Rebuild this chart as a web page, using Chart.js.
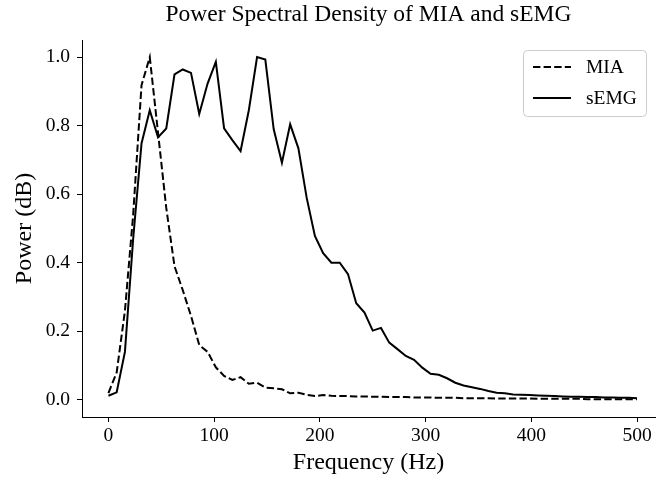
<!DOCTYPE html>
<html>
<head>
<meta charset="utf-8">
<script src="https://cdn.jsdelivr.net/npm/chart.js@4"></script>
<style>
  html, body { margin: 0; padding: 0; background: #fff; }
  #psd-chart { display: block; }
</style>
</head>
<body>
<canvas id="psd-chart" width="657" height="477"></canvas>
<script>
var freqs = [0, 7.8, 15.6, 23.4, 31.3, 39.1, 46.9, 54.7, 62.5, 70.3,
  78.1, 85.9, 93.8, 101.6, 109.4, 117.2, 125, 132.8, 140.6, 148.4,
  156.3, 164.1, 171.9, 179.7, 187.5, 195.3, 203.1, 210.9, 218.8, 226.6,
  234.4, 242.2, 250, 257.8, 265.6, 273.4, 281.3, 289.1, 296.9, 304.7,
  312.5, 320.3, 328.1, 335.9, 343.8, 351.6, 359.4, 367.2, 375, 382.8,
  390.6, 398.4, 406.3, 414.1, 421.9, 429.7, 437.5, 445.3, 453.1, 460.9,
  468.8, 476.6, 484.4, 492.2, 500];

var mia = [0.02, 0.08, 0.26, 0.54, 0.918, 1.0, 0.78, 0.56, 0.39, 0.32,
  0.245, 0.16, 0.14, 0.095, 0.07, 0.058, 0.066, 0.047, 0.05, 0.036,
  0.034, 0.031, 0.019, 0.021, 0.015, 0.011, 0.014, 0.012, 0.011, 0.011,
  0.010, 0.010, 0.009, 0.009, 0.008, 0.008, 0.008, 0.007, 0.007, 0.007,
  0.006, 0.006, 0.006, 0.005, 0.005, 0.005, 0.005, 0.004, 0.004, 0.004,
  0.004, 0.004, 0.003, 0.003, 0.003, 0.003, 0.003, 0.003, 0.002, 0.002,
  0.002, 0.002, 0.002, 0.002, 0.002];

var semg = [0.012, 0.022, 0.14, 0.47, 0.748, 0.845, 0.766, 0.792, 0.95, 0.964,
  0.954, 0.834, 0.923, 0.986, 0.792, 0.758, 0.726, 0.845, 1.0, 0.993,
  0.79, 0.692, 0.804, 0.734, 0.59, 0.478, 0.428, 0.40, 0.40, 0.367,
  0.282, 0.255, 0.202, 0.21, 0.167, 0.148, 0.128, 0.117, 0.094, 0.076,
  0.073, 0.063, 0.05, 0.042, 0.037, 0.032, 0.026, 0.021, 0.019, 0.016,
  0.015, 0.014, 0.013, 0.012, 0.011, 0.010, 0.009, 0.009, 0.008, 0.008,
  0.007, 0.007, 0.006, 0.006, 0.005];

var x_ticks = [0, 100, 200, 300, 400, 500];
var y_ticks = [0, 0.2, 0.4, 0.6, 0.8, 1.0];

var serif = "'Liberation Serif', 'DejaVu Serif', serif";

function toPoints(ys) {
  return freqs.map(function (f, i) { return { x: f, y: ys[i] }; });
}

// legend drawn inside the plot, upper right, like matplotlib
const insideLegend = {
  id: 'insideLegend',
  afterDraw(chart) {
    const ctx = chart.ctx;
    const bx = 523, by = 50, bw = 123, bh = 66;
    ctx.save();
    ctx.beginPath();
    ctx.roundRect(bx + 0.5, by + 0.5, bw, bh, 4);
    ctx.fillStyle = 'rgba(255,255,255,0.8)';
    ctx.fill();
    ctx.strokeStyle = '#cccccc';
    ctx.lineWidth = 1;
    ctx.stroke();
    chart.data.datasets.forEach(function (ds, i) {
      const y = by + 17 + i * 31;
      ctx.beginPath();
      ctx.setLineDash(ds.borderDash || []);
      ctx.strokeStyle = ds.borderColor;
      ctx.lineWidth = ds.borderWidth;
      ctx.moveTo(533, y);
      ctx.lineTo(571, y);
      ctx.stroke();
      ctx.setLineDash([]);
      ctx.fillStyle = '#000';
      ctx.font = '19.5px ' + serif;
      ctx.textBaseline = 'middle';
      ctx.fillText(ds.label, 586, y + 1);
    });
    ctx.restore();
  }
};

const data_psd = {
  datasets: [{
    label: 'MIA',
    data: toPoints(mia),
    borderColor: '#000',
    borderWidth: 2,
    borderDash: [7.4, 3.2],
    borderCapStyle: 'butt',
    pointRadius: 0,
    fill: false,
    tension: 0
  }, {
    label: 'sEMG',
    data: toPoints(semg),
    borderColor: '#000',
    borderWidth: 2,
    pointRadius: 0,
    fill: false,
    tension: 0
  }]
};

const config_psd = {
  type: 'line',
  data: data_psd,
  plugins: [insideLegend],
  options: {
    responsive: false,
    devicePixelRatio: 1,
    animation: false,
    layout: { padding: { left: 0, right: 2, top: 0, bottom: 0 } },
    plugins: {
      legend: { display: false },
      tooltip: { enabled: false },
      title: {
        display: true,
        text: 'Power Spectral Density of MIA and sEMG',
        color: '#000',
        fullSize: false,
        font: { family: serif, size: 23.5, weight: 'normal' },
        padding: { top: 1, bottom: 10.8 }
      }
    },
    scales: {
      x: {
        type: 'linear',
        min: -25,
        max: 517,
        afterBuildTicks: function (axis) {
          axis.ticks = x_ticks.map(function (v) { return { value: v }; });
        },
        afterFit: function (axis) { axis.height = 60; },
        grid: { drawOnChartArea: false, drawTicks: true, tickLength: 5, tickColor: '#000' },
        border: { display: true, color: '#000', width: 1 },
        ticks: {
          color: '#000',
          padding: 2,
          maxRotation: 0,
          font: { family: serif, size: 19.5 },
          callback: function (v) { return String(v); }
        },
        title: {
          display: true,
          text: 'Frequency (Hz)',
          color: '#000',
          font: { family: serif, size: 24 },
          padding: { top: 0, bottom: 0 }
        }
      },
      y: {
        min: -0.05,
        max: 1.05,
        afterBuildTicks: function (axis) {
          axis.ticks = y_ticks.map(function (v) { return { value: v }; });
        },
        afterFit: function (axis) { axis.width = 82; },
        grid: { drawOnChartArea: false, drawTicks: true, tickLength: 5, tickColor: '#000' },
        border: { display: true, color: '#000', width: 1 },
        ticks: {
          color: '#000',
          padding: 7,
          font: { family: serif, size: 19.5 },
          callback: function (v) { return Number(v).toFixed(1); }
        },
        title: {
          display: true,
          text: 'Power (dB)',
          color: '#000',
          font: { family: serif, size: 24 },
          padding: { top: 10, bottom: 0 }
        }
      }
    }
  }
};

const psd_chart = new Chart(document.getElementById('psd-chart'), config_psd);
</script>
</body>
</html>
